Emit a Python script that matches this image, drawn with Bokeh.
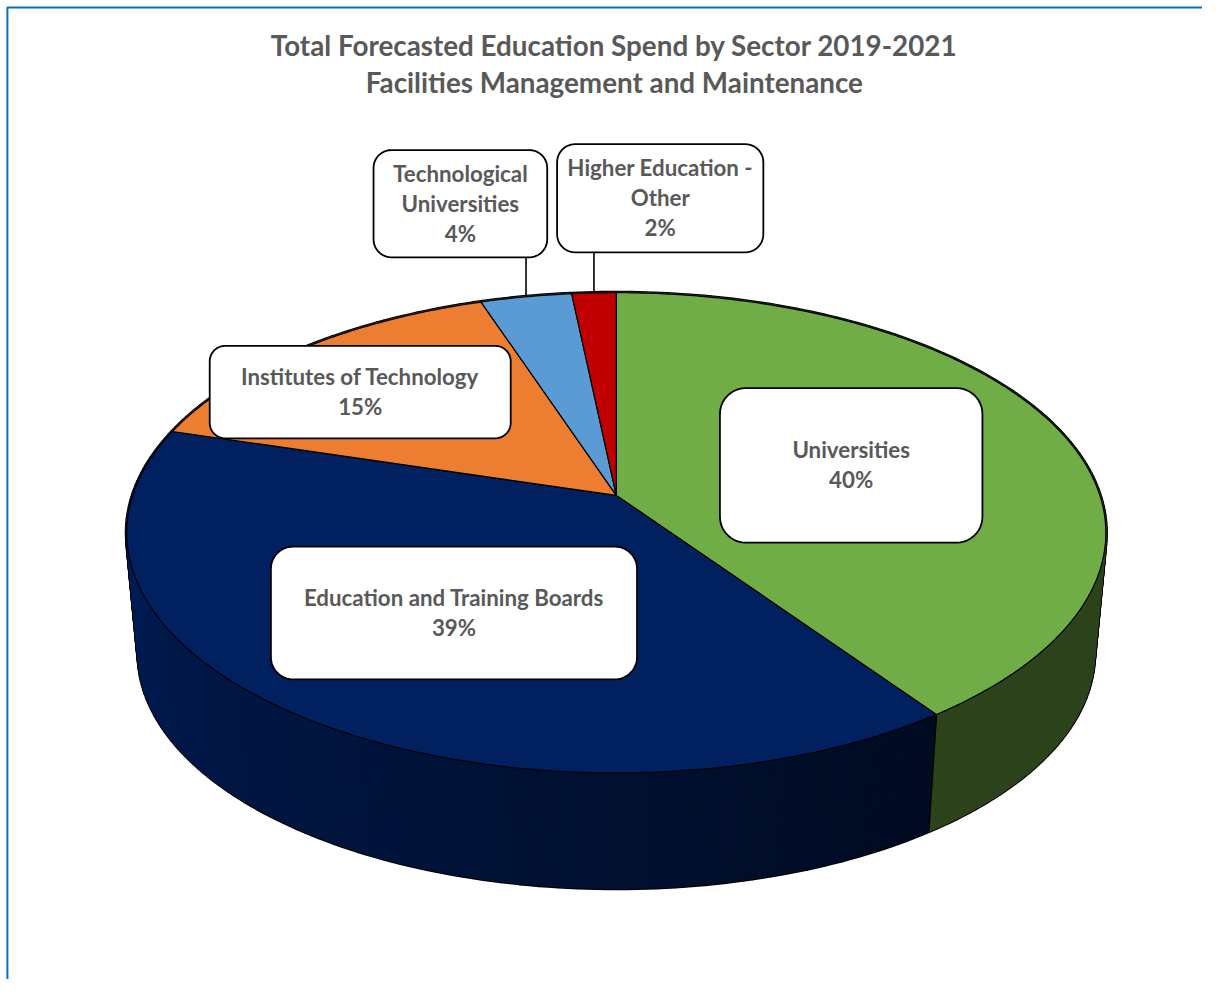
import numpy as np
from bokeh.core.properties import value
from bokeh.embed import file_html
from bokeh.models import Range1d
from bokeh.plotting import figure
from bokeh.resources import INLINE

# ---- chart data, clockwise from twelve o'clock ----
sectors = ["Universities", "Education and Training Boards", "Institutes of Technology",
           "Technological Universities", "Higher Education - Other"]
shares = [40.2, 39.4, 15.2, 3.5, 1.7]
colors = ["#70AD47", "#002060", "#ED7D31", "#5B9BD5", "#C00000"]
label_lines = [["Universities"], ["Education and Training Boards"], ["Institutes of Technology"],
               ["Technological", "Universities"], ["Higher Education -", "Other"]]
title_lines = ["Total Forecasted Education Spend by Sector 2019-2021",
               "Facilities Management and Maintenance"]

# ---- layout: data space is the 1218x995 reference, drawn on a figure that fits the page ----
REF_W, REF_H = 1218, 995
W, H = 1202, 979
CX, APEX_Y = 624.0, 503.0
K, A, B = 0.1557, 490.0, 238.1         # perspective of the disc
DEPTH_Y, DEPTH_S = 124.0, 0.976        # lower rim
TEXT = "#595959"
FONT = "Lato"
TITLE_SIZE = "27.8px"
LABEL_SIZE = "22.3px"
LINE_H = 30.4
boxes = [(729, 995, 394, 551), (274, 645, 555, 690), (212, 517, 351, 445),
         (378, 554, 152, 261), (564, 773, 146, 256)]
label_first_y = [456.5, 606.5, 382.5, 175.5, 169.5]
title_y = [45.5, 83.5]


def rim(deg, lower=False):
    a = np.radians(deg)
    u, v = np.sin(a), -np.cos(a)
    w = 1 - K * v
    dx, dy = A * u / w, B * v / w
    if lower:
        return CX + dx * DEPTH_S, APEX_Y + DEPTH_Y + dy * DEPTH_S
    return CX + dx, APEX_Y + dy


def rounded(l, r, t, b):
    rad = 0.167 * min(r - l, b - t)
    xs, ys = [], []
    for cx, cy, start in [(r - rad, t + rad, -90), (r - rad, b - rad, 0),
                          (l + rad, b - rad, 90), (l + rad, t + rad, 180)]:
        th = np.radians(np.linspace(start, start + 90, 12))
        xs.extend(cx + rad * np.cos(th))
        ys.extend(cy + rad * np.sin(th))
    return xs, ys


def shade(hex_color, f):
    rgb = [int(hex_color[i:i + 2], 16) for i in (1, 3, 5)]
    return "#%02x%02x%02x" % tuple(int(round(c * f)) for c in rgb)


edges = np.concatenate([[0], np.cumsum(shares)]) * 3.6

p = figure(width=W, height=H, output_backend="svg", toolbar_location=None,
           x_range=Range1d(0, REF_W), y_range=Range1d(REF_H, 0),
           min_border=0, outline_line_color=None, background_fill_color="white")
p.axis.visible = False
p.grid.visible = False

# frame
p.line([7, 7, REF_W], [REF_H, 7, 7], line_color="#0070C0", line_width=2)

# side walls: strips per slice
all_x, all_y, all_c = [], [], []
for i in range(len(shares)):
    a0, a1 = edges[i], edges[i + 1]
    n = max(3, int(a1 - a0))
    steps = np.linspace(a0, a1, n + 1)
    for s0, s1 in zip(steps[:-1], steps[1:]):
        ux, uy = rim(np.array([s0, s1]))
        lx, ly = rim(np.array([s1, s0]), lower=True)
        all_x.append(list(ux) + list(lx))
        all_y.append(list(uy) + list(ly))
        if colors[i] == "#002060":
            t = min(1.0, ((s0 + s1) / 2 - a0) / 121.0)
            all_c.append(shade(colors[i], 0.34 + 0.54 * t))
        else:
            all_c.append(shade(colors[i], 0.39))
# black underlay leaves only the outer silhouette visible as an outline
p.patches(all_x, all_y, fill_color="black", line_color="black", line_width=4)
p.patches(all_x, all_y, fill_color=all_c, line_color=all_c, line_width=2)
for e in edges[:-1]:
    ux, uy = rim(e)
    lx, ly = rim(e, lower=True)
    p.line([ux, lx], [uy, ly], line_color="black", line_width=1.2)

# top face
for i in range(len(shares)):
    arc = np.linspace(edges[i], edges[i + 1], max(8, int(edges[i + 1] - edges[i]) * 2))
    ux, uy = rim(arc)
    p.patch([CX] + list(ux), [APEX_Y] + list(uy), fill_color=colors[i],
            line_color="black", line_width=1.2)

# leader lines to the two small slices
for i in (3, 4):
    mx, my = rim((edges[i] + edges[i + 1]) / 2)
    p.line([mx, mx], [boxes[i][3], my], line_color="black", line_width=1.6)

# data label boxes and texts
for i, (l, r, t, b) in enumerate(boxes):
    bx, by = rounded(l, r, t, b)
    p.patch(bx, by, fill_color="white", line_color="black", line_width=1.8)
    lines = label_lines[i] + ["%d%%" % round(shares[i])]
    cx = (l + r) / 2
    for j, line in enumerate(lines):
        p.text([cx], [label_first_y[i] + j * LINE_H], text=[line], text_align="center",
               text_baseline="middle", text_color=TEXT, text_font=value(FONT),
               text_font_size=LABEL_SIZE, text_font_style="bold")

# title
for line, y in zip(title_lines, title_y):
    p.text([622], [y], text=[line], text_align="center", text_baseline="middle",
           text_color=TEXT, text_font=value(FONT), text_font_size=TITLE_SIZE,
           text_font_style="bold")

open("out.html", "w").write(file_html(p, INLINE))
